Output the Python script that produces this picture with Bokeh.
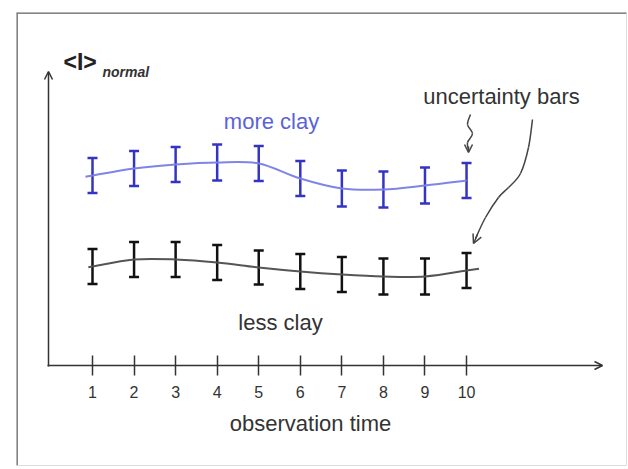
from bokeh.plotting import figure
from bokeh.models import (Range1d, FixedTicker, Whisker, TeeHead, ColumnDataSource,
                          Label, Arrow, OpenHead, Span)
from bokeh.embed import file_html
from bokeh.resources import INLINE

# ---------------- data ----------------
times = [1, 2, 3, 4, 5, 6, 7, 8, 9, 10]
tick_labels = ["1", "2", "3", "4", "5", "6", "7", "8", "9", "10"]
more_clay = [1.90, 1.97, 2.01, 2.03, 2.02, 1.87, 1.77, 1.76, 1.80, 1.85]
more_clay_err = [0.175, 0.175, 0.175, 0.18, 0.175, 0.175, 0.18, 0.18, 0.18, 0.175]
less_clay = [0.99, 1.06, 1.06, 1.03, 0.98, 0.94, 0.91, 0.89, 0.89, 0.95]
less_clay_err = [0.175, 0.175, 0.175, 0.175, 0.17, 0.175, 0.175, 0.18, 0.18, 0.175]


# --------------- layout helpers (pixel -> data placement) ---------------
def px2x(px):
    return 1 + (px - 92) / 41.56


def py2y(py):
    return (365 - py) / 100.0


def smooth(xs, ys):
    n = len(xs)
    d = dict(x0=[], y0=[], x1=[], y1=[], cx0=[], cy0=[], cx1=[], cy1=[])
    for i in range(n - 1):
        xa, ya = xs[max(i - 1, 0)], ys[max(i - 1, 0)]
        xb, yb = xs[i], ys[i]
        xc, yc = xs[i + 1], ys[i + 1]
        xd, yd = xs[min(i + 2, n - 1)], ys[min(i + 2, n - 1)]
        d["x0"].append(xb); d["y0"].append(yb)
        d["x1"].append(xc); d["y1"].append(yc)
        d["cx0"].append(xb + (xc - xa) / 6); d["cy0"].append(yb + (yc - ya) / 6)
        d["cx1"].append(xc - (xd - xb) / 6); d["cy1"].append(yc - (yd - yb) / 6)
    return d


p = figure(width=628, height=469, output_backend="svg", toolbar_location=None,
           x_range=Range1d(px2x(16), px2x(626)), y_range=Range1d(py2y(465), py2y(12)),
           min_border_left=16, min_border_right=2, min_border_top=12, min_border_bottom=4)
p.background_fill_color = "white"
p.border_fill_color = "white"
p.grid.visible = False
p.yaxis.visible = False
p.outline_line_color = "#dedede"
p.outline_line_width = 1

p.add_layout(Span(location=py2y(12), dimension="width", line_color="#858585", line_width=3))
p.add_layout(Span(location=px2x(16), dimension="height", line_color="#858585", line_width=3))

xa = p.xaxis[0]
xa.fixed_location = 0
xa.ticker = FixedTicker(ticks=times)
xa.major_label_overrides = {t: l for t, l in zip(times, tick_labels)}
xa.axis_line_color = None
xa.major_tick_in = 10
xa.major_tick_out = 10
xa.major_tick_line_color = "#333333"
xa.major_tick_line_width = 1.5
xa.minor_tick_line_color = None
xa.major_label_text_font = "Liberation Sans"
xa.major_label_text_font_size = "16px"
xa.major_label_text_color = "#333333"
xa.major_label_standoff = 10

# axes arrows
p.add_layout(Arrow(end=OpenHead(size=8, line_width=1.5, line_color="#333333"),
                   x_start=px2x(48), y_start=py2y(366), x_end=px2x(48), y_end=py2y(71),
                   line_width=1.5, line_color="#333333"))
p.add_layout(Arrow(end=OpenHead(size=8, line_width=1.5, line_color="#333333"),
                   x_start=px2x(47), y_start=py2y(365), x_end=px2x(602), y_end=py2y(365),
                   line_width=1.5, line_color="#333333"))

# smooth curves through the series
bs = smooth(times, more_clay)
p.bezier(x0="x0", y0="y0", x1="x1", y1="y1", cx0="cx0", cy0="cy0", cx1="cx1", cy1="cy1",
         source=ColumnDataSource(bs), line_color="#7f84e6", line_width=2)
ks = smooth(times, less_clay)
p.bezier(x0="x0", y0="y0", x1="x1", y1="y1", cx0="cx0", cy0="cy0", cx1="cx1", cy1="cy1",
         source=ColumnDataSource(ks), line_color="#555555", line_width=2)
# short tails past the end points, along the end tangents
p.segment(x0=[times[0]], y0=[more_clay[0]],
          x1=[times[0] - 0.17 * (times[1] - times[0])],
          y1=[more_clay[0] - 0.17 * (more_clay[1] - more_clay[0])],
          line_color="#7f84e6", line_width=2)
p.segment(x0=[times[0]], y0=[less_clay[0]],
          x1=[times[0] - 0.1 * (times[1] - times[0])],
          y1=[less_clay[0] - 0.1 * (less_clay[1] - less_clay[0])],
          line_color="#555555", line_width=2)
p.segment(x0=[times[-1]], y0=[less_clay[-1]],
          x1=[times[-1] + 0.3 * (times[-1] - times[-2])],
          y1=[less_clay[-1] + 0.3 * (less_clay[-1] - less_clay[-2])],
          line_color="#555555", line_width=2)

# uncertainty bars
for vals, errs, col in [(more_clay, more_clay_err, "#3434c4"), (less_clay, less_clay_err, "#111111")]:
    src = ColumnDataSource(dict(t=times,
                                lo=[v - e for v, e in zip(vals, errs)],
                                hi=[v + e for v, e in zip(vals, errs)]))
    p.add_layout(Whisker(base="t", lower="lo", upper="hi", source=src,
                         line_color=col, line_width=2.5,
                         upper_head=TeeHead(size=10, line_color=col, line_width=2.5),
                         lower_head=TeeHead(size=10, line_color=col, line_width=2.5)))

# texts
def lab(px, py, text, size="22px", color="#333333", align="center", style="normal"):
    p.add_layout(Label(x=px2x(px), y=py2y(py), text=text, text_align=align,
                       text_baseline="middle", text_font="Liberation Sans",
                       text_font_size=size, text_font_style=style, text_color=color))


lab(271, 121, "more clay", color="#5a64d6")
lab(280, 322, "less clay")
lab(501, 96, "uncertainty bars")
lab(310, 423, "observation time")
lab(63, 61, "<I>", size="23px", color="#222222", align="left", style="bold")
lab(102, 71, "normal", size="14px", align="left", style="bold italic")

# pointer arrows to the bars
sq_x = [px2x(v) for v in [470, 467, 472, 467, 468]]
sq_y = [py2y(v) for v in [114, 124, 133, 142, 149]]
p.bezier(x0="x0", y0="y0", x1="x1", y1="y1", cx0="cx0", cy0="cy0", cx1="cx1", cy1="cy1",
         source=ColumnDataSource(smooth(sq_x, sq_y)), line_color="#444444", line_width=1.5)
p.add_layout(Arrow(end=OpenHead(size=8, line_width=1.5, line_color="#444444"),
                   x_start=px2x(468), y_start=py2y(146), x_end=px2x(468), y_end=py2y(152),
                   line_width=1.5, line_color="#444444"))
lc_x = [px2x(v) for v in [532, 528, 520, 508, 498, 485, 475]]
lc_y = [py2y(v) for v in [119, 147, 173, 187, 197, 217, 238]]
p.bezier(x0="x0", y0="y0", x1="x1", y1="y1", cx0="cx0", cy0="cy0", cx1="cx1", cy1="cy1",
         source=ColumnDataSource(smooth(lc_x, lc_y)), line_color="#444444", line_width=1.5)
p.add_layout(Arrow(end=OpenHead(size=9, line_width=1.5, line_color="#444444"),
                   x_start=px2x(477), y_start=py2y(234), x_end=px2x(473), y_end=py2y(243),
                   line_width=1.5, line_color="#444444"))

open("out.html", "w").write(file_html(p, INLINE))
